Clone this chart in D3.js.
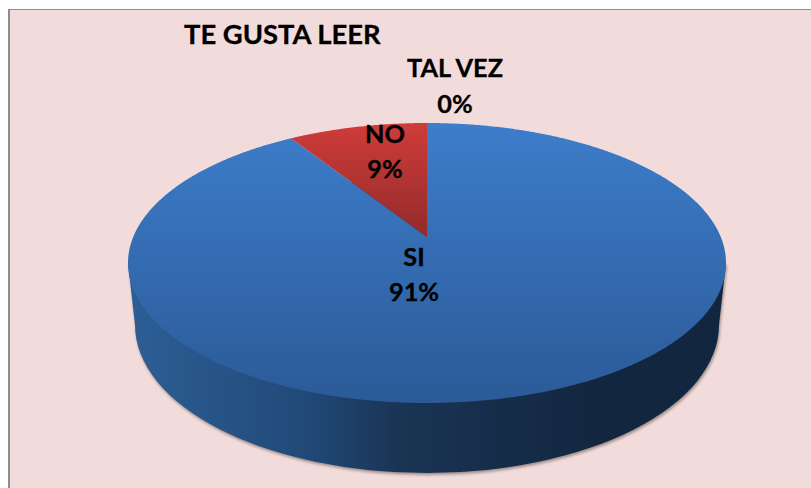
<!DOCTYPE html>
<html><head><meta charset="utf-8">
<style>html,body{margin:0;padding:0;background:#fff}svg{display:block}text{font-family:Lato,sans-serif;font-weight:700;fill:#000;stroke:#000;stroke-width:.3px}</style>
<script src="https://cdn.jsdelivr.net/npm/d3@7/dist/d3.min.js"></script>
</head><body><div id="c"></div>
<script>
const chartTitle = "TE GUSTA LEER";
const categories = ["SI", "NO", "TAL VEZ"];
const values = [91, 9, 0];
const percentLabels = ["91%", "9%", "0%"];
const sliceColors = [["#3d7dcb", "#2b5a97"], ["#cf3c3a", "#922b2a"], ["#9bbb59", "#9bbb59"]];

(function () {
const W = 811, H = 488;
const cx = 427, cy = 263, rx = 299, ry = 140;
const bx = 292, by = 148, bcy = 325;
const apexY = 237;
const k = (apexY - cy) / ry;

const svg = d3.select("#c").append("svg").attr("width", W).attr("height", H);
const defs = svg.append("defs");

defs.append("filter").attr("id", "sh").attr("x", "-10%").attr("y", "-10%").attr("width", "120%").attr("height", "120%")
  .append("feGaussianBlur").attr("stdDeviation", 1.6);

svg.append("rect").attr("width", W).attr("height", H).attr("fill", "#fff");
svg.append("rect").attr("x", 8).attr("y", 9).attr("width", W).attr("height", H).attr("fill", "#f2dcdb");
svg.append("rect").attr("x", 8).attr("y", 9).attr("width", 2).attr("height", H).attr("fill", "#8e8e8e");
svg.append("rect").attr("x", 8).attr("y", 9).attr("width", W).attr("height", 1).attr("fill", "#8e8e8e");

const sideGrad = defs.append("linearGradient").attr("id", "side")
  .attr("gradientUnits", "userSpaceOnUse").attr("x1", cx - rx).attr("x2", cx + rx).attr("y1", 0).attr("y2", 0);
[[0, "#2c5e96"], [0.12, "#28568a"], [0.29, "#214a79"], [0.455, "#1a3454"], [0.79, "#12263f"], [1, "#12263f"]]
  .forEach(s => sideGrad.append("stop").attr("offset", s[0]).attr("stop-color", s[1]));

function wall(g) {
  const p = d3.path();
  p.moveTo(cx - rx, cy);
  p.lineTo(cx - bx, bcy);
  p.lineTo(cx + bx, bcy);
  p.lineTo(cx + rx, cy);
  p.closePath();
  g.append("path").attr("d", p.toString());
  g.append("ellipse").attr("cx", cx).attr("cy", bcy).attr("rx", bx).attr("ry", by);
}
const shadow = svg.append("g").attr("fill", "#6b5f5c").attr("opacity", 0.65).attr("filter", "url(#sh)")
  .attr("transform", "translate(1,2)");
wall(shadow);
wall(svg.append("g").attr("fill", "url(#side)"));

const pie = d3.pie().sort(null).value(d => d).startAngle(0).endAngle(2 * Math.PI);
const arcs = pie(values);

// Perspective view of the round top: the pie's centre is seen above the ellipse's centre.
const rimPoint = a => {
  const u = Math.sin(a), v = -Math.cos(a), w = 1 + k * v;
  return [cx + rx * u * Math.sqrt(1 - k * k) / w, cy + ry * (v + k) / w];
};
const lineGen = d3.line();

arcs.forEach((d, i) => {
  if (d.value <= 0) return;
  const id = "g" + i;
  const g = defs.append("linearGradient").attr("id", id).attr("gradientUnits", "userSpaceOnUse")
    .attr("x1", 0).attr("x2", 0);
  if (i === 0) g.attr("y1", cy - ry).attr("y2", cy + ry);
  else g.attr("y1", cy - ry).attr("y2", apexY);
  g.append("stop").attr("offset", 0).attr("stop-color", sliceColors[i][0]);
  g.append("stop").attr("offset", 1).attr("stop-color", sliceColors[i][1]);
  const pts = [[cx, apexY]];
  const n = Math.ceil((d.endAngle - d.startAngle) * 120);
  d3.range(n + 1).forEach(j => pts.push(rimPoint(d.startAngle + (d.endAngle - d.startAngle) * j / n)));
  svg.append("path").attr("d", lineGen(pts) + "Z").attr("fill", `url(#${id})`);
});

const labelSpots = { "SI": [414, 266, 301], "NO": [385, 143, 178], "TAL VEZ": [455, 77, 113] };
categories.forEach((c, i) => {
  const [x, y1, y2] = labelSpots[c];
  svg.append("text").attr("x", x).attr("y", y1).attr("text-anchor", "middle").attr("font-size", 25.3).text(c);
  svg.append("text").attr("x", x).attr("y", y2).attr("text-anchor", "middle").attr("font-size", 25.3).text(percentLabels[i]);
});

svg.append("text").attr("x", 184).attr("y", 43.5).attr("font-size", 27.4).text(chartTitle);
})();
</script></body></html>
